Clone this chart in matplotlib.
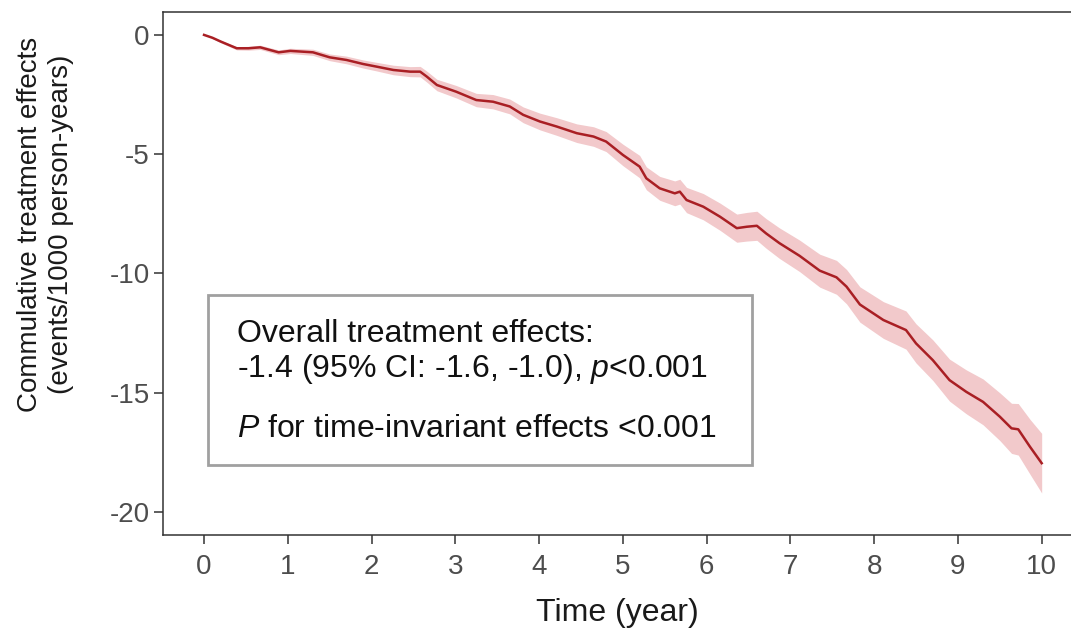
import numpy as np
import matplotlib
matplotlib.use("Agg")
import matplotlib.pyplot as plt
from matplotlib.patches import Rectangle

plt.rcParams['font.family'] = ['Liberation Sans', 'DejaVu Sans']
plt.rcParams['axes.unicode_minus'] = False
plt.rcParams['mathtext.fontset'] = 'custom'
plt.rcParams['mathtext.rm'] = 'Liberation Sans'
plt.rcParams['mathtext.it'] = 'Liberation Sans:italic'

###############################################################################
# values
time = [0.0, 0.1, 0.2, 0.39, 0.53, 0.67, 0.89, 1.03, 1.3, 1.5, 1.7, 1.9,
        2.06, 2.26, 2.46, 2.58, 2.66, 2.78, 3.01, 3.25, 3.45, 3.65, 3.81,
        4.01, 4.21, 4.45, 4.65, 4.8, 5.0, 5.2, 5.28, 5.44, 5.62, 5.68, 5.76,
        5.96, 6.16, 6.36, 6.48, 6.6, 6.71, 6.87, 7.11, 7.35, 7.55, 7.67,
        7.83, 8.11, 8.38, 8.5, 8.7, 8.9, 9.1, 9.3, 9.5, 9.64, 9.72, 9.86,
        10.0]
effect = [0.0, -0.12, -0.28, -0.56, -0.56, -0.52, -0.73, -0.67, -0.73,
          -0.94, -1.05, -1.22, -1.33, -1.47, -1.54, -1.54, -1.75, -2.1,
          -2.38, -2.73, -2.8, -3.0, -3.35, -3.63, -3.84, -4.12, -4.26,
          -4.47, -5.03, -5.52, -6.01, -6.43, -6.64, -6.57, -6.92, -7.2,
          -7.62, -8.1, -8.04, -8.0, -8.32, -8.73, -9.26, -9.88, -10.16,
          -10.55, -11.3, -11.95, -12.37, -12.93, -13.63, -14.47, -14.96,
          -15.38, -16.0, -16.49, -16.53, -17.26, -17.95]
# half width of the 95% band
ci_half = [0.0, 0.03, 0.05, 0.07, 0.08, 0.09, 0.1, 0.11, 0.13, 0.14, 0.16,
           0.17, 0.18, 0.2, 0.21, 0.22, 0.23, 0.24, 0.26, 0.28, 0.3, 0.31,
           0.33, 0.35, 0.37, 0.39, 0.41, 0.42, 0.45, 0.47, 0.48, 0.5, 0.52,
           0.52, 0.53, 0.55, 0.57, 0.59, 0.6, 0.61, 0.62, 0.64, 0.66, 0.69,
           0.71, 0.72, 0.74, 0.77, 0.8, 0.82, 0.85, 0.88, 0.92, 0.96, 1.0,
           1.05, 1.08, 1.15, 1.25]

xticks = [0, 1, 2, 3, 4, 5, 6, 7, 8, 9, 10]
yticks = [0, -5, -10, -15, -20]

box_lines = ["Overall treatment effects:",
             "-1.4 (95% CI: -1.6, -1.0), $p$<0.001",
             "$P$ for time-invariant effects <0.001"]
###############################################################################

t = np.array(time)
y = np.array(effect)
h = np.array(ci_half)

fig = plt.figure(figsize=(10.71, 6.35), dpi=100)
ax = fig.add_axes([163/1071, 100/635, 908/1071, 523/635])

ax.fill_between(t, y - h, y + h, color='#f2c9cb', lw=0)
ax.plot(t, y, color='#a91f24', lw=1.8)

ax.set_xlim(-0.49, 10.35)
ax.set_ylim(-20.96, 0.96)
ax.set_xticks(xticks)
ax.set_yticks(yticks)
ax.tick_params(labelsize=20, colors='#333333', labelcolor='#4d4d4d',
               length=6.5, width=1.1)
ax.tick_params(axis='x', pad=7)
ax.tick_params(axis='y', pad=3)
for side in ['left', 'top', 'bottom']:
    ax.spines[side].set_color('#333333')
    ax.spines[side].set_linewidth(1.1)
ax.spines['right'].set_visible(False)

ax.set_xlabel('Time (year)', fontsize=23, color='#1a1a1a', labelpad=13)
fig.text(46/1071, 1 - 224/635,
         'Commulative treatment effects\n(events/1000 person-years)',
         rotation=90, ha='center', va='center', fontsize=20,
         color='#1a1a1a', linespacing=1.25)

ax.add_patch(Rectangle((0.05, -18.03), 6.49, 7.13, facecolor='white',
                       edgecolor='#a0a0a0', lw=2, zorder=3))
ax.text(0.39, -12.87, box_lines[0], fontsize=23, color='#111111', zorder=4)
ax.text(0.39, -14.34, box_lines[1], fontsize=23, color='#111111', zorder=4)
ax.text(0.39, -16.86, box_lines[2], fontsize=23, color='#111111', zorder=4)

plt.savefig('out.png', dpi=100)
